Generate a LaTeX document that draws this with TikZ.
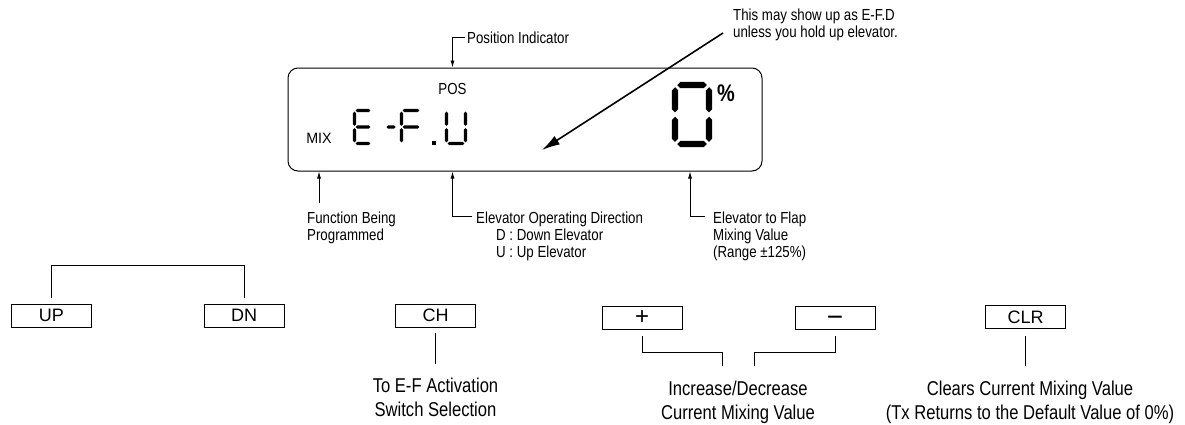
\documentclass[tikz,border=0pt]{standalone}
\usepackage{fontspec}
\setmainfont{Liberation Sans}
\newfontfamily\condfont{Liberation Sans}[FakeStretch=0.83]
\usetikzlibrary{arrows.meta,positioning,calc}

% seven segment pieces: x1, x2, y, half thickness / x, y1, y2, half thickness
\newcommand{\hseg}[4]{\fill (#1,#3) -- (#1+#4,#3-#4) -- (#2-#4,#3-#4) -- (#2,#3) -- (#2-#4,#3+#4) -- (#1+#4,#3+#4) -- cycle;}
\newcommand{\vseg}[4]{\fill (#1,#2) -- (#1+#4,#2+#4) -- (#1+#4,#3-#4) -- (#1,#3) -- (#1-#4,#3-#4) -- (#1-#4,#2+#4) -- cycle;}
\newcommand{\sega}{\hseg{\xl+\gp}{\xr-\gp}{\yt}{\sh}}
\newcommand{\segd}{\hseg{\xl+\gp}{\xr-\gp}{\yb}{\sh}}
\newcommand{\segg}{\hseg{\xl+\gp}{\xr-\gp}{\ym}{\sh}}
\newcommand{\segf}{\vseg{\xl}{\yt+\gp}{\ym-\gp}{\sh}}
\newcommand{\sege}{\vseg{\xl}{\ym+\gp}{\yb-\gp}{\sh}}
\newcommand{\segb}{\vseg{\xr}{\yt+\gp}{\ym-\gp}{\sh}}
\newcommand{\segc}{\vseg{\xr}{\ym+\gp}{\yb-\gp}{\sh}}
% left, right, top, bottom, half thickness, segments
\newcommand{\segdigit}[6]{%
  \def\xl{#1}\def\xr{#2}\def\yt{#3}\def\yb{#4}\def\sh{#5}%
  \pgfmathsetmacro{\ym}{(#3+#4)/2}\pgfmathsetmacro{\gp}{#5*0.7}%
  \foreach \sg in {#6}{\csname seg\sg\endcsname}}

\begin{document}
\begin{tikzpicture}[x=1pt,y=-1pt,
  lbl/.style={font=\condfont\fontsize{16}{17}\selectfont,inner sep=0pt,align=left},
  keytxt/.style={font=\condfont\fontsize{20}{24}\selectfont,inner sep=0pt,align=center},
  key/.style={draw,line width=0.8pt,minimum width=80pt,minimum height=23pt,
              inner sep=0pt,font=\fontsize{18}{18}\selectfont},
  arr/.style={line width=0.8pt,-{Latex[length=7pt,width=4pt]}},
  link/.style={line width=0.8pt},
]
\useasboundingbox (0,0) rectangle (1185,424);

% LCD window
\node[draw,line width=1pt,rounded corners=10pt,minimum width=474pt,
      minimum height=103pt] (lcd) at (525,119.5) {};
\node[font=\condfont\fontsize{16}{16}\selectfont,inner sep=0pt] (pos) at (452.5,89) {POS};
\node[font=\fontsize{15}{15}\selectfont,inner sep=0pt,xscale=0.95] (mix) at (319,138) {MIX};
\node[font=\condfont\bfseries\fontsize{24}{24}\selectfont,inner sep=0pt] (pct) at (726,93) {\%};
\coordinate (val) at (690,115);
\coordinate (dirpt) at (542,150);

% E-F.U
\segdigit{354.5}{371.5}{110.5}{143.5}{1.6}{a,d,e,f,g}
\hseg{386.5}{395.5}{127}{1.6}
\segdigit{401.5}{420.5}{110.5}{143.5}{1.6}{a,e,f,g}
\fill (432,140.5) rectangle (436,144.5);
\segdigit{446.5}{465.5}{110.5}{143.5}{1.6}{b,c,d,e,f}
% 0
\segdigit{675}{709}{85}{144}{3.2}{a,b,c,d,e,f}

% callouts above
\node[lbl,anchor=base west] (posind) at (467,43) {Position Indicator};
\draw[arr] ([xshift=-2pt]posind.west) -| (lcd.north -| pos);
\node[lbl,anchor=north west] (note) at (733,9)
  {This may show up as E-F.D\\unless you hold up elevator.};
\draw[line width=1.6pt,-{Latex[length=18pt,width=10pt]}]
  ([xshift=-10pt,yshift=-24pt]note.north west) -- (dirpt);

% callouts below
\node[lbl,anchor=north west] (fbp) at (307,212) {Function Being\\Programmed};
\draw[arr] (fbp.north west -| mix) ++(0,-9) -- (lcd.south -| mix);
\node[lbl,anchor=north west] (eod) at (476,212)
  {Elevator Operating Direction\\\hspace*{20pt}D : Down Elevator\\\hspace*{20pt}U : Up Elevator};
\draw[arr] ([xshift=-4pt,yshift=-4pt]eod.north west) -| (lcd.south -| pos);
\node[lbl,anchor=north west] (etf) at (713,212)
  {Elevator to Flap\\Mixing Value\\(Range ±125\%)};
\draw[arr] ([xshift=-8pt,yshift=-4pt]etf.north west) -| (lcd.south -| val);

% keys
\node[key] (up)  at (51.5,315.5)  {UP};
\node[key] (dn)  at (244,315.5)   {DN};
\node[key] (ch)  at (435.5,315.5) {CH};
\node[key,font=\fontsize{24}{24}\selectfont] (plus) at (642,317.5)  {+};
\node[key,font=\fontsize{28}{28}\selectfont] (minus) at (835,317.5) {\raisebox{-9pt}[0pt][0pt]{−}};
\node[key] (clr) at (1025.5,317)  {CLR};

\draw[link] ([yshift=6pt]up.north) -- ++(0,-32) -| ([yshift=6pt]dn.north);

% key texts
\node[keytxt,anchor=north] (chtxt)  at (435.5,378) {To E-F Activation\\Switch Selection};
\node[keytxt,anchor=north] (incdec) at (738,381)   {Increase/Decrease\\Current Mixing Value};
\node[keytxt,anchor=north] (clrtxt) at (1030,381)  {Clears Current Mixing Value\\(Tx Returns to the Default Value of 0\%)};

\draw[link] (ch.south) ++(0,6) -- ([yshift=14pt]chtxt.north);
\draw[link] (plus.south) ++(0,7) -- ++(0,16) -| ([xshift=-16pt,yshift=15pt]incdec.north);
\draw[link] (minus.south) ++(0,7) -- ++(0,16) -| ([xshift=16pt,yshift=15pt]incdec.north);
\draw[link] (clr.south) ++(0,7) -- ([yshift=15pt]clrtxt.north -| clr.south);
\end{tikzpicture}
\end{document}
